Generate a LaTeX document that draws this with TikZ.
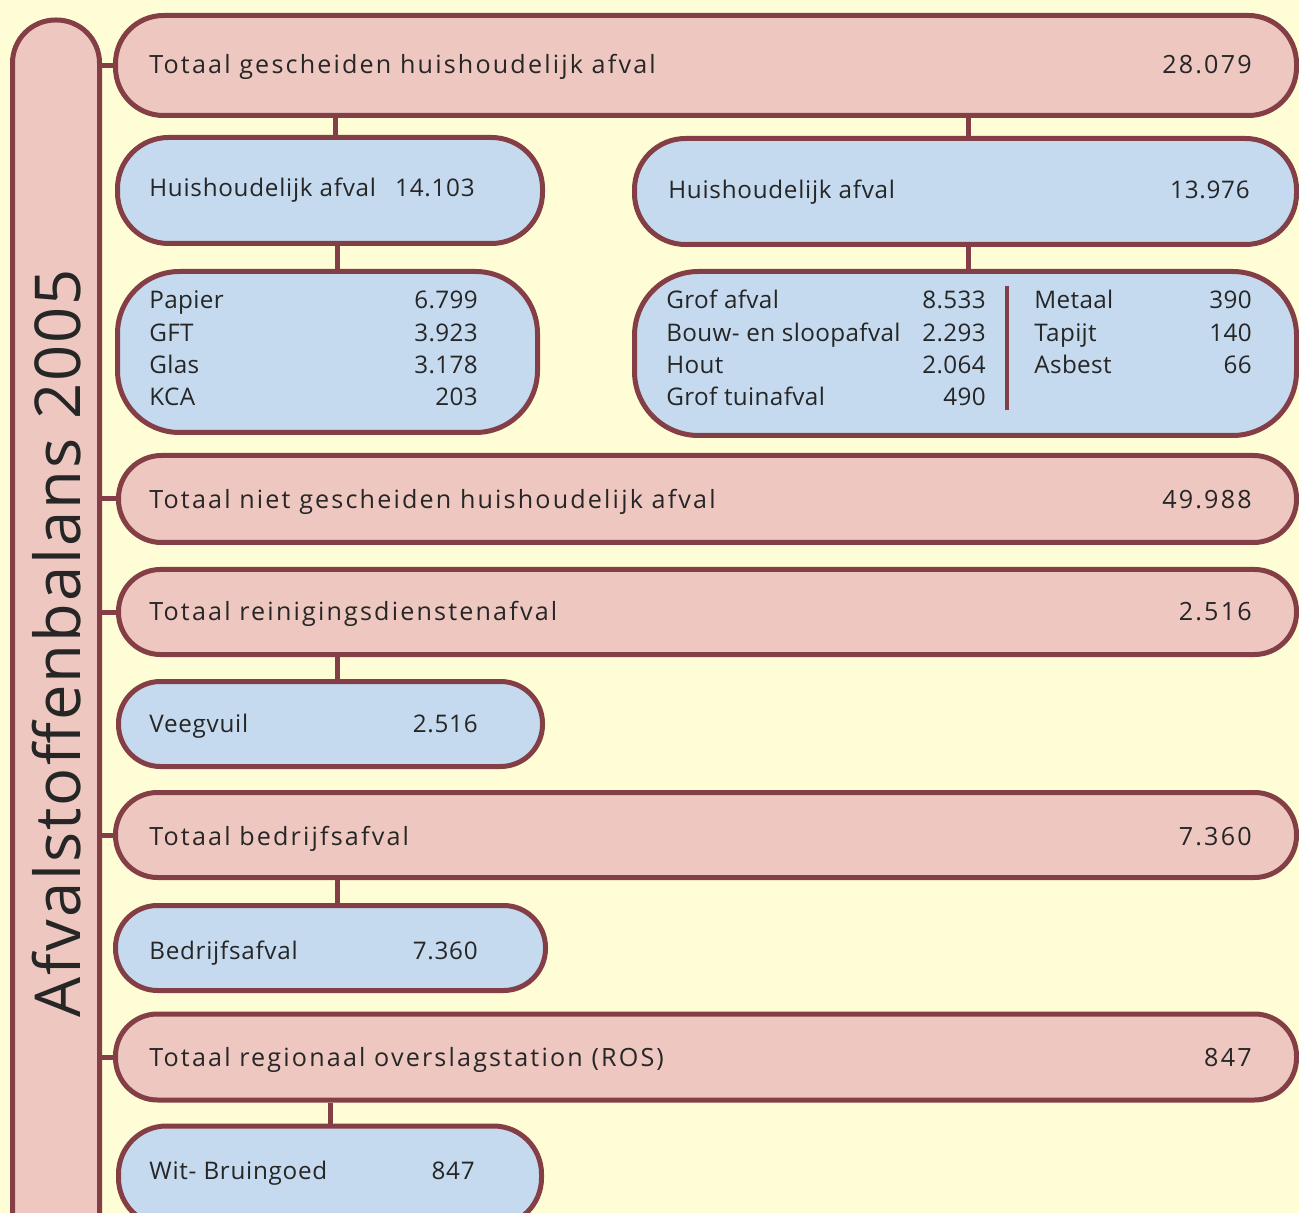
\documentclass[tikz,border=0pt]{standalone}
\usepackage{fontspec}
\usepackage{tikz}
\setmainfont{Open Sans}
\newfontfamily\titlefont[LetterSpace=3.2]{Open Sans}
\newfontfamily\sumfont[LetterSpace=8.6]{Open Sans}
\newfontfamily\partfont[LetterSpace=3]{Open Sans}
\newfontfamily\listfont[LetterSpace=1.5]{Open Sans}
\definecolor{paper}{RGB}{255,253,214}
\definecolor{rim}{RGB}{132,62,70}
\definecolor{rosy}{RGB}{238,200,192}
\definecolor{sky}{RGB}{197,218,239}
\definecolor{ink}{RGB}{38,38,38}
\newdimen\px
\px=0.2mm

\begin{document}
\begin{tikzpicture}[x=0.2mm,y=-0.2mm]
	\useasboundingbox (0,0) rectangle (1299,1213);
	\fill[paper] (0,0) rectangle (1299,1213);
	\clip (0,0) rectangle (1299,1213);

	\begin{scope}[every node/.style={draw=rim,fill=rosy,line width=5\px,inner sep=0pt}]
		\node[minimum width=87\px,minimum height=1240\px,rounded corners=43\px] (pill) at (56,640) {};
		\node[minimum width=1181\px,minimum height=100\px,rounded corners=48\px] (tot1) at (706,65.5) {};
		\node[minimum width=1178\px,minimum height=87\px,rounded corners=43\px] (tot2) at (707.5,499) {};
		\node[minimum width=1178\px,minimum height=85\px,rounded corners=42\px] (tot3) at (707.5,612) {};
		\node[minimum width=1181\px,minimum height=85\px,rounded corners=42\px] (tot4) at (706,835) {};
		\node[minimum width=1181\px,minimum height=86\px,rounded corners=42\px] (tot5) at (706,1057) {};
	\end{scope}

	\begin{scope}[every node/.style={draw=rim,fill=sky,line width=5\px,inner sep=0pt}]
		\node[minimum width=425\px,minimum height=106\px,rounded corners=51\px] (hha) at (330,190.5) {};
		\node[minimum width=662\px,minimum height=106\px,rounded corners=51\px] (hhb) at (965.5,191.5) {};
		\node[minimum width=420\px,minimum height=161\px,rounded corners=62\px] (lsta) at (327.5,352) {};
		\node[minimum width=662\px,minimum height=164\px,rounded corners=64\px] (lstb) at (965.5,353.5) {};
		\node[minimum width=424\px,minimum height=85\px,rounded corners=42\px] (veeg) at (330.5,724) {};
		\node[minimum width=430\px,minimum height=85\px,rounded corners=42\px] (bedr) at (330.5,948) {};
		\node[minimum width=423\px,minimum height=100\px,rounded corners=48\px] (wit) at (330,1176) {};
	\end{scope}

	\begin{scope}[every edge/.style={draw=rim,line width=5\px}]
		\path (tot1.west) edge (tot1.west -| pill.east);
		\path (tot2.west) edge (tot2.west -| pill.east);
		\path (tot3.west) edge (tot3.west -| pill.east);
		\path (tot4.west) edge (tot4.west -| pill.east);
		\path (tot5.west) edge (tot5.west -| pill.east);
		\path ([xshift=1mm]hha.north) edge ([xshift=1mm]hha.north |- tot1.south);
		\path ([xshift=0.5mm]hhb.north) edge ([xshift=0.5mm]hhb.north |- tot1.south);
		\path ([xshift=1.4mm]hha.south) edge ([xshift=1.4mm]hha.south |- lsta.north);
		\path ([xshift=0.5mm]hhb.south) edge ([xshift=0.5mm]hhb.south |- lstb.north);
		\path ([xshift=1.3mm]veeg.north) edge ([xshift=1.3mm]veeg.north |- tot3.south);
		\path ([xshift=1.3mm]bedr.north) edge ([xshift=1.3mm]bedr.north |- tot4.south);
		\path (wit.north) edge (wit.north |- tot5.south);
	\end{scope}

	\draw[rim,line width=4\px] (1007,286) -- (1007,410);

	\node[rotate=90,text=ink,inner sep=0pt,font=\titlefont\fontsize{36}{40}\selectfont] (titletext) at (57,643) {Afvalstoffenbalans 2005};

	\begin{scope}[every node/.style={text=ink,inner sep=0pt,font=\sumfont\fontsize{14.3}{17}\selectfont}]
		\node[anchor=base west] (tot1l) at (149,74) {Totaal gescheiden huishoudelijk afval};
		\node[anchor=base east] (tot1v) at (1252,74) {28.079};
		\node[anchor=base west] (tot2l) at (149,509) {Totaal niet gescheiden huishoudelijk afval};
		\node[anchor=base east] (tot2v) at (1252,509) {49.988};
		\node[anchor=base west] (tot3l) at (149,620) {Totaal reinigingsdienstenafval};
		\node[anchor=base east] (tot3v) at (1252,620) {2.516};
		\node[anchor=base west] (tot4l) at (149,845) {Totaal bedrijfsafval};
		\node[anchor=base east] (tot4v) at (1252,845) {7.360};
		\node[anchor=base west] (tot5l) at (149,1066) {Totaal regionaal overslagstation (ROS)};
		\node[anchor=base east] (tot5v) at (1252,1066) {847};
	\end{scope}

	\begin{scope}[every node/.style={text=ink,inner sep=0pt,font=\partfont\fontsize{13.8}{17}\selectfont}]
		\node[anchor=base west] (hhal) at (149,197) {Huishoudelijk afval};
		\node[anchor=base east] (hhav) at (475,197) {14.103};
		\node[anchor=base west] (hhbl) at (668,199) {Huishoudelijk afval};
		\node[anchor=base east] (hhbv) at (1250,199) {13.976};
		\node[anchor=base west] (veegl) at (149,732) {Veegvuil};
		\node[anchor=base east] (veegv) at (478,732) {2.516};
		\node[anchor=base west] (bedrl) at (149,959) {Bedrijfsafval};
		\node[anchor=base east] (bedrv) at (478,959) {7.360};
		\node[anchor=base west] (witl) at (149,1179) {Wit- Bruingoed};
		\node[anchor=base east] (witv) at (475,1179) {847};
	\end{scope}

	\begin{scope}[every node/.style={text=ink,inner sep=0pt,font=\listfont\fontsize{13.8}{17}\selectfont}]
		\node[anchor=base west] (pap) at (149,309) {Papier};
		\node[anchor=base east] (papv) at (478,309) {6.799};
		\node[anchor=base west] (gft) at (149,342) {GFT};
		\node[anchor=base east] (gftv) at (478,342) {3.923};
		\node[anchor=base west] (glas) at (149,374) {Glas};
		\node[anchor=base east] (glasv) at (478,374) {3.178};
		\node[anchor=base west] (kca) at (149,406) {KCA};
		\node[anchor=base east] (kcav) at (478,406) {203};
		\node[anchor=base west] (grof) at (666,309) {Grof afval};
		\node[anchor=base east] (grofv) at (986,309) {8.533};
		\node[anchor=base west] (bouw) at (666,342) {Bouw- en sloopafval};
		\node[anchor=base east] (bouwv) at (986,342) {2.293};
		\node[anchor=base west] (hout) at (666,374) {Hout};
		\node[anchor=base east] (houtv) at (986,374) {2.064};
		\node[anchor=base west] (tuin) at (666,406) {Grof tuinafval};
		\node[anchor=base east] (tuinv) at (986,406) {490};
		\node[anchor=base west] (met) at (1034,309) {Metaal};
		\node[anchor=base east] (metv) at (1252,309) {390};
		\node[anchor=base west] (tap) at (1034,342) {Tapijt};
		\node[anchor=base east] (tapv) at (1252,342) {140};
		\node[anchor=base west] (asb) at (1034,374) {Asbest};
		\node[anchor=base east] (asbv) at (1252,374) {66};
	\end{scope}
\end{tikzpicture}
\end{document}
